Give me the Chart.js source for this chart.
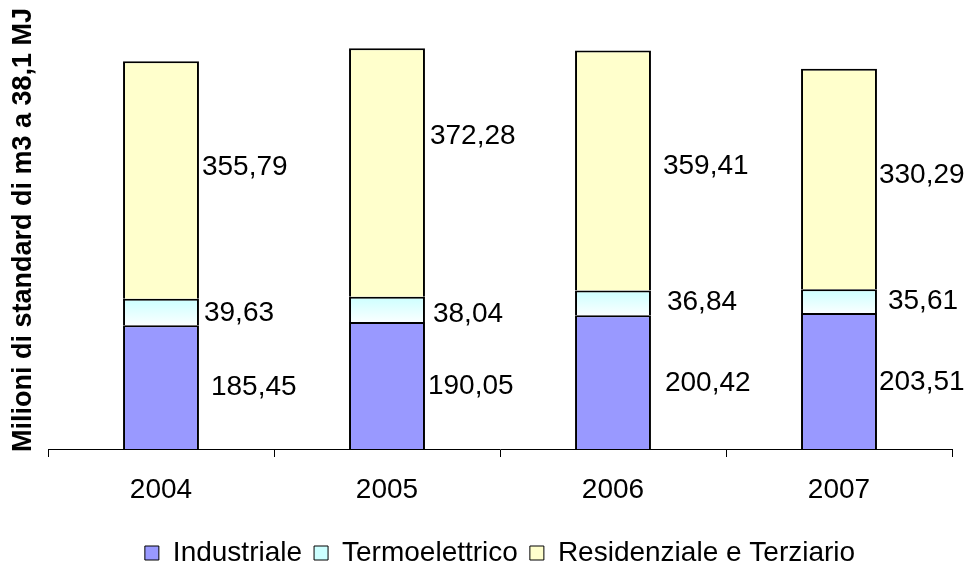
<!DOCTYPE html>
<html>
<head>
<meta charset="utf-8">
<script src="https://cdn.jsdelivr.net/npm/chart.js@4/dist/chart.umd.min.js"></script>
<style>
  html, body { margin: 0; padding: 0; background: #ffffff; }
  #wrap { width: 967px; height: 570px; position: relative; }
</style>
</head>
<body>
<div id="wrap"><canvas id="c" width="967" height="570"></canvas></div>
<script>
// Consumi di gas naturale per settore (milioni di Sm3 a 38,1 MJ)
const anni = ['2004', '2005', '2006', '2007'];
const industriale = [185.45, 190.05, 200.42, 203.51];
const termoelettrico = [39.63, 38.04, 36.84, 35.61];
const residenziale = [355.79, 372.28, 359.41, 330.29];
const nomiSerie = ['Industriale', 'Termoelettrico', 'Residenziale e Terziario'];
const titoloAsse = 'Milioni di standard di m3 a 38,1 MJ';

// spostamento delle etichette: [distanza dal bordo destro della barra, scarto verticale]
const spostamentoEtichette = [
  [[12, 0], [3, 1], [14, 1], [2, 1]],
  [[5, 1], [8, 5], [16, -1], [11, 0]],
  [[3, -13], [5, -36], [12, -4], [2, -4]]
];

const FONT = "'Liberation Sans', Arial, sans-serif";
const colTermoAlto = '#CCFFFF';
const colTermoBasso = '#FAFFFF';

function formatta(v) {
  return v.toFixed(2).replace('.', ',');
}

// riempimento sfumato della fascia termoelettrica
function sfumaturaTermo(ctx) {
  const chart = ctx.chart;
  const i = ctx.dataIndex;
  if (!chart.chartArea || i === undefined) return colTermoAlto;
  const y = chart.scales.y;
  const alto = y.getPixelForValue(industriale[i] + termoelettrico[i]);
  const basso = y.getPixelForValue(industriale[i]);
  const g = chart.ctx.createLinearGradient(0, alto, 0, basso);
  g.addColorStop(0, colTermoAlto);
  g.addColorStop(1, colTermoBasso);
  return g;
}

// titolo verticale a sinistra
const titoloVerticale = {
  id: 'titoloVerticale',
  afterDraw(chart) {
    const c = chart.ctx;
    c.save();
    c.translate(24, 230);
    c.rotate(-Math.PI / 2);
    c.font = 'bold 27px ' + FONT;
    c.fillStyle = '#000';
    c.textAlign = 'center';
    c.textBaseline = 'middle';
    c.fillText(titoloAsse, 0, 0);
    c.restore();
  }
};

// valori scritti a destra di ogni segmento
const etichetteValori = {
  id: 'etichetteValori',
  afterDatasetsDraw(chart) {
    const c = chart.ctx;
    c.save();
    c.font = '28px ' + FONT;
    c.fillStyle = '#000';
    c.textAlign = 'left';
    c.textBaseline = 'middle';
    chart.data.datasets.forEach((ds, di) => {
      const meta = chart.getDatasetMeta(di);
      meta.data.forEach((bar, j) => {
        const p = bar.getProps(['x', 'y', 'base', 'width'], true);
        const [dx, dy] = spostamentoEtichette[di][j];
        const xt = p.x + p.width / 2 + dx;
        const yt = (p.y + p.base) / 2 + dy;
        c.fillText(formatta(ds.data[j]), xt, yt);
      });
    });
    c.restore();
  }
};

const comune = {
  borderColor: '#000000',
  borderWidth: 2,
  borderSkipped: 'start',
  categoryPercentage: 1.0,
  barPercentage: 0.336
};

new Chart(document.getElementById('c'), {
  type: 'bar',
  data: {
    labels: anni,
    datasets: [
      Object.assign({ label: nomiSerie[0], data: industriale, backgroundColor: '#9999FF' }, comune),
      Object.assign({ label: nomiSerie[1], data: termoelettrico, backgroundColor: sfumaturaTermo }, comune),
      Object.assign({ label: nomiSerie[2], data: residenziale, backgroundColor: '#FFFFCC' }, comune)
    ]
  },
  options: {
    responsive: false,
    animation: false,
    devicePixelRatio: 1,
    layout: { padding: { left: 48, right: 15, top: 15, bottom: -7 } },
    scales: {
      x: {
        stacked: true,
        offset: true,
        grid: {
          display: true,
          drawOnChartArea: false,
          drawTicks: true,
          tickLength: 8,
          color: '#000000',
          lineWidth: 1,
          offset: true
        },
        border: { display: true, color: '#000000', width: 1 },
        ticks: { color: '#000000', font: { family: FONT, size: 28 }, padding: 16 },
        afterFit(s) { s.height = 78; }
      },
      y: {
        stacked: true,
        display: false,
        min: 0,
        max: 650
      }
    },
    plugins: {
      legend: {
        position: 'bottom',
        labels: {
          color: '#000000',
          font: { family: FONT, size: 28 },
          boxWidth: 14,
          boxHeight: 14,
          padding: 12,
          generateLabels(chart) {
            const items = Chart.defaults.plugins.legend.labels.generateLabels(chart);
            const fill = ['#9999FF', colTermoAlto, '#FFFFCC'];
            items.forEach((it, k) => {
              it.fillStyle = fill[k];
              it.strokeStyle = '#000000';
              it.lineWidth = 1;
            });
            return items;
          }
        }
      },
      tooltip: { enabled: false }
    }
  },
  plugins: [titoloVerticale, etichetteValori]
});
</script>
</body>
</html>
